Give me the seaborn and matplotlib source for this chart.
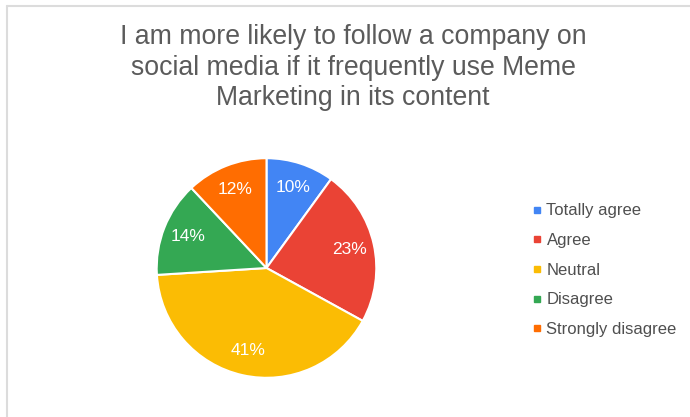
import matplotlib
matplotlib.use("Agg")
import matplotlib.pyplot as plt
from matplotlib.lines import Line2D
import seaborn as sns

# Survey responses
categories = ["Totally agree", "Agree", "Neutral", "Disagree", "Strongly disagree"]
shares = [10, 23, 41, 14, 12]
colors = ["#4285F4", "#EA4335", "#FBBC04", "#34A853", "#FF6D01"]
title = ("I am more likely to follow a company on\n"
         "social media if it frequently use Meme\n"
         "Marketing in its content")

sns.set_theme(style="white")
plt.rcParams["font.family"] = ["Liberation Sans", "DejaVu Sans"]
palette = sns.color_palette(colors)

W, H = 690, 417
fig = plt.figure(figsize=(W / 100, H / 100), dpi=100)
fig.patch.set_facecolor("white")

# Pie axes: centre (266.5, 268) px, radius 112 px
cx, cy, r = 266.5, 268, 112
ax = fig.add_axes([(cx - r) / W, (H - cy - r) / H, 2 * r / W, 2 * r / H])
wedges, texts, autotexts = ax.pie(
    shares,
    colors=palette,
    startangle=90,
    counterclock=False,
    autopct=lambda p: f"{p:.0f}%",
    pctdistance=0.77,
    wedgeprops=dict(edgecolor="white", linewidth=1.5),
    textprops=dict(color="white", fontsize=12.5),
)
ax.set_xlim(-1.02, 1.02)
ax.set_ylim(-1.02, 1.02)
ax.set_aspect("equal")
ax.axis("off")

fig.text(353 / W, 1 - 24 / H, title, ha="center", va="top",
         fontsize=19.2, color="#5b5b5b", linespacing=1.23)

# Legend
handles = [Line2D([0], [0], marker="s", linestyle="none", markersize=4,
                  markerfacecolor=c, markeredgecolor=c) for c in palette]
fig.legend(handles, categories, loc="upper left",
           bbox_to_anchor=(524 / W, 1 - 195 / H), frameon=False,
           fontsize=12, labelcolor="#4f4f4f", handlelength=0.5,
           handletextpad=0.35, labelspacing=0.88, borderpad=0)

# Light frame along the top and left edges
fig.add_artist(Line2D([7 / W, 1], [1 - 5.5 / H, 1 - 5.5 / H],
                      transform=fig.transFigure, color="#dcdcdc", lw=1.5))
fig.add_artist(Line2D([7 / W, 7 / W], [0, 1 - 5.5 / H],
                      transform=fig.transFigure, color="#dcdcdc", lw=1.5))

fig.savefig("out.png", dpi=100, facecolor="white")
